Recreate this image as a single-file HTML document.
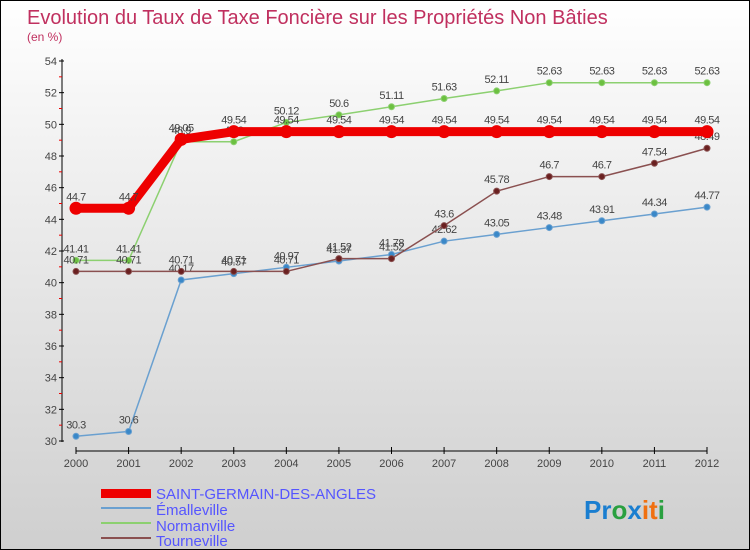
<!DOCTYPE html>
<html><head><meta charset="utf-8"><style>
body{margin:0}
#c{width:750px;height:550px;position:relative;font-family:"Liberation Sans",sans-serif;background:linear-gradient(#fff 0%,#f0f0f0 30%,#cfcfcf 100%);box-sizing:border-box;border:1px solid #000;overflow:hidden}
svg text{font-family:"Liberation Sans",sans-serif}
</style></head><body>
<div id="c">
<svg width="750" height="550" id="s">
<text x="26" y="23" font-size="20" fill="#c0305f">Evolution du Taux de Taxe Foncière sur les Propriétés Non Bâties</text>
<text x="26" y="40" font-size="12" fill="#c0305f">(en %)</text>
<g id="g"></g>
<g>
<rect x="100" y="488" width="50" height="9" fill="#e00"/>
<text x="155" y="498" font-size="15" fill="#55f">SAINT-GERMAIN-DES-ANGLES</text>
<line x1="100" y1="507" x2="150" y2="507" stroke="#6aa0d0" stroke-width="2"/>
<text x="155" y="514" font-size="15" fill="#55f">Émalleville</text>
<line x1="100" y1="522" x2="150" y2="522" stroke="#8cd070" stroke-width="2"/>
<text x="155" y="530" font-size="15" fill="#55f">Normanville</text>
<line x1="100" y1="537" x2="150" y2="537" stroke="#8a5050" stroke-width="2"/>
<text x="155" y="545" font-size="15" fill="#55f">Tourneville</text>
</g>
<text x="583" y="518" font-size="26" font-weight="bold"><tspan fill="#1a7ed0">Pr</tspan><tspan fill="#2aa040">o</tspan><tspan fill="#1a7ed0">x</tspan><tspan fill="#f07010">it</tspan><tspan fill="#2aa040">i</tspan></text>
</svg></div>
<script>
const years=[2000,2001,2002,2003,2004,2005,2006,2007,2008,2009,2010,2011,2012];
const yTicks=[30,32,34,36,38,40,42,44,46,48,50,52,54];
const sgda=[44.7,44.7,49.05,49.54,49.54,49.54,49.54,49.54,49.54,49.54,49.54,49.54,49.54];
const emal=[30.3,30.6,40.17,40.57,40.97,41.37,41.78,42.62,43.05,43.48,43.91,44.34,44.77];
const norm=[41.41,41.41,48.9,48.9,50.12,50.6,51.11,51.63,52.11,52.63,52.63,52.63,52.63];
const tour=[40.71,40.71,40.71,40.71,40.71,41.52,41.52,43.6,45.78,46.7,46.7,47.54,48.49];
const NS="http://www.w3.org/2000/svg",g=document.getElementById('g');
const X=i=>75+i*(706-75)/(years.length-1);
const Y=v=>440-(v-30)*(380/24);
function el(t,a,p){const e=document.createElementNS(NS,t);for(const k in a)e.setAttribute(k,a[k]);(p||g).appendChild(e);return e;}
let e=el('line',{x1:61,y1:58,x2:61,y2:441,stroke:'#000'});


e=el('line',{x1:75,y1:450,x2:706,y2:450,stroke:'#000'});


yTicks.forEach(v=>{el('line',{x1:58,y1:Y(v),x2:63,y2:Y(v),stroke:'#000'});
 if(v<54)el('line',{x1:58,y1:Y(v+1),x2:61,y2:Y(v+1),stroke:'#e00'});
 const t=el('text',{x:56,y:Y(v)+4,'font-size':11,fill:'#444','text-anchor':'end'});t.textContent=v;
 
 });
years.forEach((y,i)=>{el('line',{x1:X(i),y1:446,x2:X(i),y2:453,stroke:'#000'});
 const t=el('text',{x:X(i),y:466,'font-size':11,fill:'#444','text-anchor':'middle'});t.textContent=y;
 
 });
function series(d,col,w,r,dot,name){
 const p=el('polyline',{points:d.map((v,i)=>X(i)+','+Y(v)).join(' '),fill:'none',stroke:col,'stroke-width':w});
 
 
 d.forEach((v,i)=>{const c=el('circle',{cx:X(i),cy:Y(v),r:r,fill:dot,stroke:col});
  
  
  const t=el('text',{x:X(i),y:Y(v)-8,'font-size':11,fill:'#444','text-anchor':'middle','letter-spacing':'-0.5'});t.textContent=v;
  
  });
}
series(emal,'#6aa0d0',1.5,3,'#3a88c8','emalleville');
series(norm,'#8cd070',1.5,3,'#6cc040','normanville');
series(tour,'#8a5050',1.5,3,'#6a2020','tourneville');
series(sgda,'#ee0000',9,6,'#ee0000','saint-germain');
</script>
</body></html>
